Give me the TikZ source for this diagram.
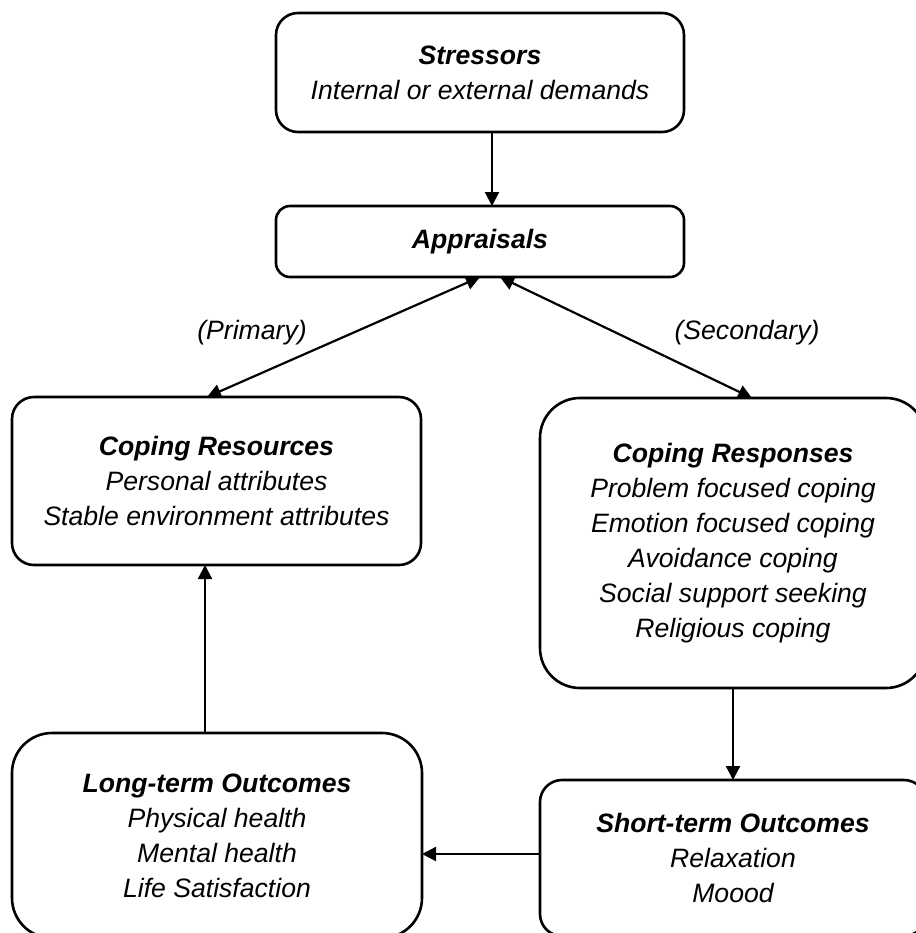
\documentclass[tikz,border=0pt]{standalone}
\usepackage{fontspec}
\setmainfont{Liberation Sans}
\usepackage{xcolor}
\usepackage{tikz}
\usetikzlibrary{positioning,arrows.meta}
\tikzset{
  box-base/.style={draw=black,line width=1.3pt,align=center,inner sep=0pt,
    outer sep=0pt,font=\itshape\fontsize{13.3}{17.5}\selectfont},
  box-small/.style={box-base,rounded corners=7pt},
  box-mid/.style={box-base,rounded corners=11pt},
  box-big/.style={box-base,rounded corners=20pt},
  tag/.style={font=\itshape\fontsize{13.3}{17.5}\selectfont},
  arrow/.style={-{Triangle[length=7pt,width=7pt]},line width=1.1pt},
  arrow-both/.style={{Triangle[length=7pt,width=7pt]}-{Triangle[length=7pt,width=7pt]},
    line width=1.1pt},
}

\begin{document}
\begin{tikzpicture}[x=1pt,y=1pt]
  \useasboundingbox (0,0) rectangle (458,-466.5);
  \node[box-mid,minimum width=204pt,minimum height=59.5pt] (stress) at (240,-36.25)
    {\textbf{Stressors}\\Internal or external demands};
  \node[box-small,minimum width=204pt,minimum height=35.5pt,below=37pt of stress] (appr)
    {\textbf{Appraisals}};
  \node[box-mid,minimum width=204.5pt,minimum height=84pt,anchor=north west] (res) at (6,-198.5)
    {\textbf{Coping Resources}\\Personal attributes\\Stable environment attributes};
  \node[box-big,minimum width=193pt,minimum height=145pt,anchor=north west] (resp) at (270,-199)
    {\textbf{Coping Responses}\\Problem focused coping\\Emotion focused coping\\
     Avoidance coping\\Social support seeking\\Religious coping};
  \node[box-mid,minimum width=193pt,minimum height=78pt,below=46pt of resp] (short)
    {\textbf{Short-term Outcomes}\\Relaxation\\Moood};
  \node[box-big,minimum width=205pt,minimum height=102.5pt,anchor=north west] (long) at (6,-366.5)
    {\textbf{Long-term Outcomes}\\Physical health\\Mental health\\Life Satisfaction};
  % labels of the two appraisal links
  \node[tag] (primary)   at (126,-166.5)   {(Primary)};
  \node[tag] (secondary) at (373.5,-166.5) {(Secondary)};
  \draw[arrow]      ([xshift=6pt]stress.south) -- ([xshift=6pt]appr.north);
  \draw[arrow-both] (appr.south) -- ([xshift=-4.75pt]res.north);
  \draw[arrow-both] ([xshift=10pt]appr.south) -- ([xshift=9.5pt]resp.north);
  \draw[arrow]      (resp) -- (short);
  \draw[arrow]      ([yshift=2pt]short.west) -- ([yshift=2pt]short.west -| long.east);
  \draw[arrow]      ([xshift=-6pt]long.north) -- ([xshift=-6pt]long.north |- res.south);
\end{tikzpicture}
\end{document}
